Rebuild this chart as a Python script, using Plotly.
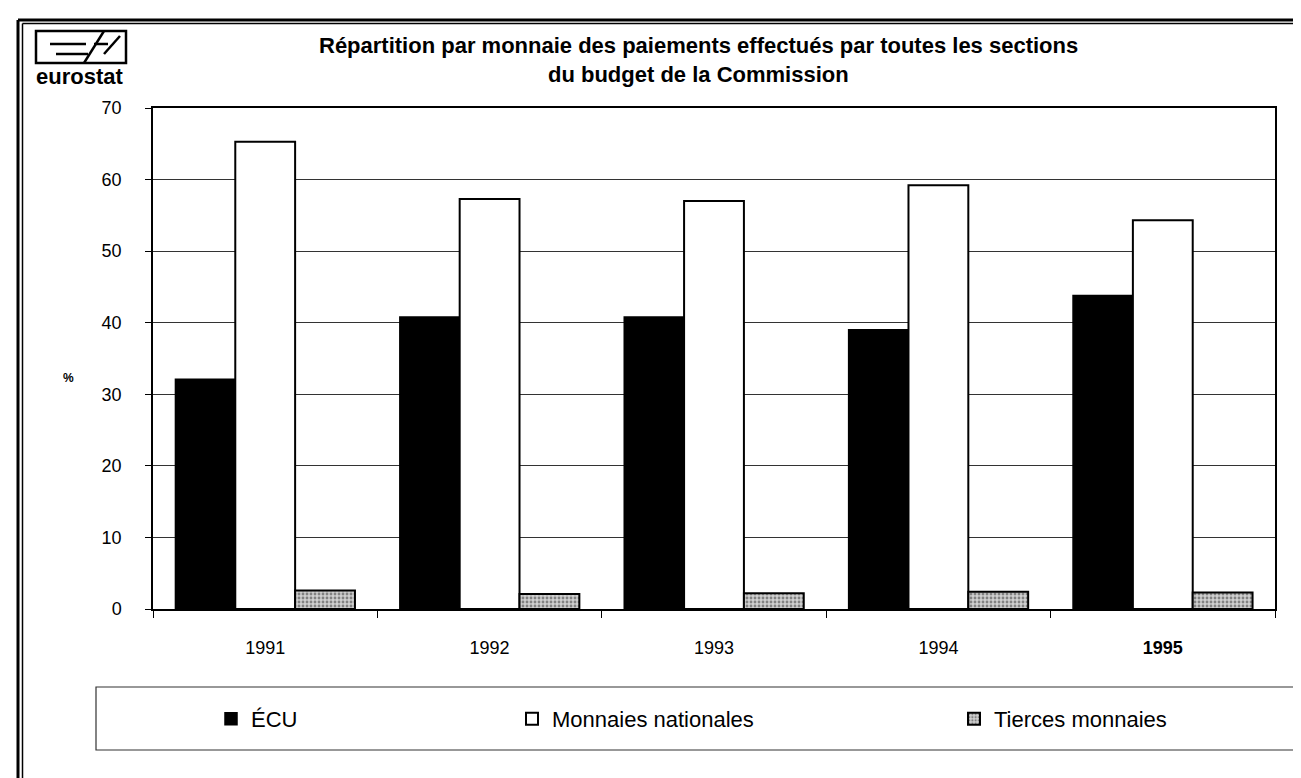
import plotly.graph_objects as go

years = ["1991", "1992", "1993", "1994", "1995"]
year_labels = ["1991", "1992", "1993", "1994", "<b>1995</b>"]
ecu = [32.1, 40.8, 40.8, 39.0, 43.8]
nationales = [65.3, 57.3, 57.0, 59.2, 54.3]
tierces = [2.6, 2.1, 2.2, 2.4, 2.3]

W, H = 1301, 778
L, R, T, B = 145, 1267, 100, 601


def px(x):
    return (x - L) / (R - L)


def py(y):
    return (B - y) / (B - T)


FONT = "Liberation Sans, Arial, sans-serif"

fig = go.Figure()
fig.add_trace(go.Bar(
    x=years, y=ecu, name="ÉCU", legend="legend",
    marker=dict(color="black", line=dict(color="black", width=1.5)),
))
fig.add_trace(go.Bar(
    x=years, y=nationales, name="Monnaies nationales", legend="legend2",
    marker=dict(color="white", line=dict(color="black", width=2)),
))
fig.add_trace(go.Bar(
    x=years, y=tierces, name="Tierces monnaies", legend="legend3",
    marker=dict(color="#c8c8c8", line=dict(color="black", width=2),
                pattern=dict(shape=".", fgcolor="#333", bgcolor="#cfcfcf",
                             size=4, solidity=0.4)),
))

shapes = []
# outer double frame (left and top)
shapes.append(dict(type="line", xref="paper", yref="paper",
                   x0=px(10), x1=px(10), y0=py(12), y1=py(H + 5),
                   line=dict(color="black", width=3)))
shapes.append(dict(type="line", xref="paper", yref="paper",
                   x0=px(14.5), x1=px(14.5), y0=py(15.5), y1=py(H + 5),
                   line=dict(color="black", width=1.5)))
shapes.append(dict(type="line", xref="paper", yref="paper",
                   x0=px(10), x1=px(W + 5), y0=py(12), y1=py(12),
                   line=dict(color="black", width=3)))
shapes.append(dict(type="line", xref="paper", yref="paper",
                   x0=px(14.5), x1=px(W + 5), y0=py(15.5), y1=py(15.5),
                   line=dict(color="black", width=1.5)))
# legend frame
shapes.append(dict(type="rect", xref="paper", yref="paper",
                   x0=px(88), x1=px(W + 10), y0=py(679), y1=py(742),
                   line=dict(color="#333", width=1.2)))
# eurostat logo
shapes.append(dict(type="rect", xref="paper", yref="paper",
                   x0=px(28), x1=px(118), y0=py(23), y1=py(55),
                   line=dict(color="black", width=2.5)))
for (x0, y0, x1, y1) in [(42, 36, 78, 36), (48, 46, 80, 46),
                         (76, 55, 96, 23), (96, 46, 112, 28),
                         (86, 36, 100, 36)]:
    shapes.append(dict(type="line", xref="paper", yref="paper",
                       x0=px(x0), x1=px(x1), y0=py(y0), y1=py(y1),
                       line=dict(color="black", width=2.5)))

annotations = [
    dict(text="Répartition par monnaie des paiements effectués par toutes les sections",
         xref="paper", yref="paper", x=px(690), y=py(37), showarrow=False,
         xanchor="center", yanchor="middle",
         font=dict(family=FONT, size=22, color="black", weight="bold")),
    dict(text="du budget de la Commission",
         xref="paper", yref="paper", x=px(690), y=py(66), showarrow=False,
         xanchor="center", yanchor="middle",
         font=dict(family=FONT, size=22, color="black", weight="bold")),
    dict(text="eurostat", xref="paper", yref="paper", x=px(26), y=py(69),
         showarrow=False, xanchor="left", yanchor="middle",
         font=dict(family=FONT, size=22, color="black", weight="bold")),
    dict(text="%", xref="paper", yref="paper", x=px(60), y=py(370),
         showarrow=False, xanchor="center", yanchor="middle",
         font=dict(family=FONT, size=12, color="black", weight="bold")),
]

leg_common = dict(orientation="h", yanchor="middle", xanchor="left",
                  y=py(711), bgcolor="rgba(0,0,0,0)", borderwidth=0,
                  font=dict(family=FONT, size=22, color="black"))

fig.update_layout(
    width=W, height=H,
    margin=dict(l=L, r=W - R, t=T, b=H - B, autoexpand=False),
    paper_bgcolor="white", plot_bgcolor="white",
    barmode="group", bargap=0.2, bargroupgap=0,
    font=dict(family=FONT, size=18, color="black"),
    showlegend=True,
    legend=dict(x=px(203), **leg_common),
    legend2=dict(x=px(504), **leg_common),
    legend3=dict(x=px(946), **leg_common),
    shapes=shapes,
    annotations=annotations,
    xaxis=dict(
        tickmode="array", tickvals=years, ticktext=year_labels,
        tickson="boundaries", ticks="outside", ticklen=7, tickcolor="black",
        showline=True, linecolor="black", linewidth=1.5, mirror=True,
        showgrid=False, ticklabelstandoff=22,
        tickfont=dict(family=FONT, size=18, color="black"),
    ),
    yaxis=dict(
        range=[0, 70], tickvals=[0, 10, 20, 30, 40, 50, 60, 70],
        ticks="outside", ticklen=6, tickcolor="black",
        showline=True, linecolor="black", linewidth=1.5, mirror=True,
        showgrid=True, gridcolor="#333", gridwidth=1,
        zeroline=False, ticklabelstandoff=20,
        tickfont=dict(family=FONT, size=18, color="black"),
    ),
)

fig.write_html("out.html")
